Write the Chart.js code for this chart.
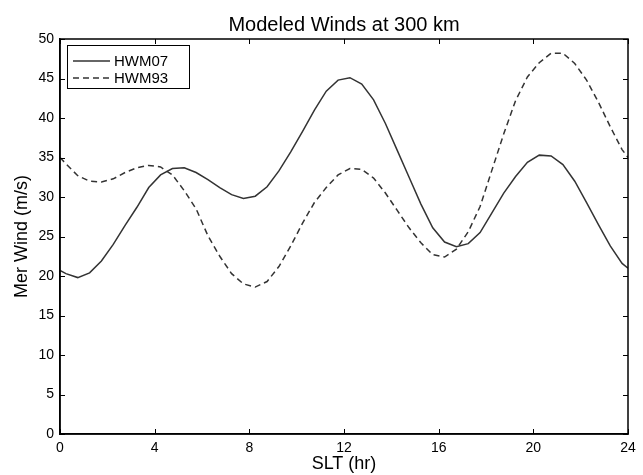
<!DOCTYPE html>
<html>
<head>
<meta charset="utf-8">
<title>Modeled Winds at 300 km</title>
<script src="https://cdn.jsdelivr.net/npm/chart.js@4"></script>
<style>
  html, body { margin: 0; padding: 0; background: #fff; }
  #wrap { width: 643px; height: 475px; }
</style>
</head>
<body>
<div id="wrap"><canvas id="grafica" width="643" height="475"></canvas></div>
<script>
// Hora solar local (hr)
const hours = [0, 0.25, 0.75, 1.25, 1.75, 2.25, 2.75, 3.25, 3.75, 4.25, 4.75, 5.25, 5.75,
  6.25, 6.75, 7.25, 7.75, 8.25, 8.75, 9.25, 9.75, 10.25, 10.75, 11.25, 11.75,
  12.25, 12.75, 13.25, 13.75, 14.25, 14.75, 15.25, 15.75, 16.25, 16.75, 17.25, 17.75,
  18.25, 18.75, 19.25, 19.75, 20.25, 20.75, 21.25, 21.75, 22.25, 22.75, 23.25, 23.75, 24];

// Viento meridional (m/s)
const hwm07 = [20.7, 20.3, 19.8, 20.4, 21.9, 24.0, 26.4, 28.7, 31.2, 32.8, 33.6, 33.7, 33.1,
  32.2, 31.2, 30.3, 29.8, 30.1, 31.3, 33.3, 35.7, 38.3, 41.0, 43.4, 44.8,
  45.1, 44.3, 42.3, 39.3, 35.9, 32.5, 29.1, 26.1, 24.3, 23.7, 24.1, 25.5,
  28.0, 30.5, 32.6, 34.4, 35.3, 35.2, 34.1, 32.0, 29.3, 26.5, 23.8, 21.6, 21.0];

const hwm93 = [35.0, 34.2, 32.7, 32.0, 31.9, 32.3, 33.1, 33.7, 34.0, 33.8, 32.8, 30.8, 28.5,
  25.1, 22.5, 20.3, 19.0, 18.6, 19.3, 21.2, 23.8, 26.7, 29.3, 31.2, 32.8,
  33.6, 33.5, 32.4, 30.5, 28.3, 26.1, 24.2, 22.7, 22.4, 23.4, 25.6, 28.8,
  33.4, 38.0, 42.2, 45.2, 47.0, 48.2, 48.2, 46.9, 44.8, 42.0, 38.9, 36.0, 35.0];

const xTicks = [0, 4, 8, 12, 16, 20, 24];
const yTicks = [0, 5, 10, 15, 20, 25, 30, 35, 40, 45, 50];

const fuente = "'Liberation Sans', Arial, Helvetica, sans-serif";

// Marco y marcas hacia dentro (estilo MATLAB)
const marco = {
  id: 'marco',
  afterDraw(chart) {
    const ctx = chart.ctx;
    const { left, right, top, bottom } = chart.chartArea;
    const xs = chart.scales.x, ys = chart.scales.y;
    ctx.save();
    ctx.strokeStyle = '#000';
    ctx.lineWidth = 1;
    xTicks.forEach(v => {
      const px = Math.round(xs.getPixelForValue(v)) + 0.5;
      ctx.beginPath();
      ctx.moveTo(px, bottom); ctx.lineTo(px, bottom - 5);
      ctx.moveTo(px, top); ctx.lineTo(px, top + 5);
      ctx.stroke();
    });
    yTicks.forEach(v => {
      const py = Math.round(ys.getPixelForValue(v)) + 0.5;
      ctx.beginPath();
      ctx.moveTo(left, py); ctx.lineTo(left + 5, py);
      ctx.moveTo(right, py); ctx.lineTo(right - 5, py);
      ctx.stroke();
    });
    ctx.lineWidth = 1.5;
    ctx.strokeRect(left, top, right - left, bottom - top);
    ctx.restore();
  }
};

// Leyenda dentro del area del grafico
const leyenda = {
  id: 'leyenda',
  afterDatasetsDraw(chart) {
    const ctx = chart.ctx;
    const x0 = 67, y0 = 45, w = 122, h = 43;
    ctx.save();
    ctx.fillStyle = '#fff';
    ctx.fillRect(x0, y0, w, h);
    ctx.strokeStyle = '#000';
    ctx.lineWidth = 1;
    ctx.strokeRect(x0 + 0.5, y0 + 0.5, w, h);
    chart.data.datasets.forEach((ds, i) => {
      const y = y0 + 16 + i * 17;
      ctx.strokeStyle = ds.borderColor;
      ctx.lineWidth = ds.borderWidth;
      ctx.setLineDash(ds.borderDash || []);
      ctx.beginPath();
      ctx.moveTo(x0 + 6, y); ctx.lineTo(x0 + 43, y);
      ctx.stroke();
      ctx.setLineDash([]);
      ctx.fillStyle = '#000';
      ctx.font = '15px ' + fuente;
      ctx.textBaseline = 'middle';
      ctx.fillText(ds.label, x0 + 47, y + 1);
    });
    ctx.restore();
  }
};

const ctx = document.getElementById('grafica');
new Chart(ctx, {
  type: 'line',
  data: {
    datasets: [{
      label: 'HWM07',
      data: hours.map((h, i) => ({ x: h, y: hwm07[i] })),
      borderColor: '#333',
      borderWidth: 1.5,
      pointRadius: 0,
      tension: 0
    }, {
      label: 'HWM93',
      data: hours.map((h, i) => ({ x: h, y: hwm93[i] })),
      borderColor: '#333',
      borderWidth: 1.5,
      borderDash: [6, 4],
      pointRadius: 0,
      tension: 0
    }]
  },
  options: {
    responsive: false,
    animation: false,
    layout: { padding: { left: 0, right: 15, top: 0, bottom: 0 } },
    plugins: {
      legend: { display: false },
      tooltip: { enabled: false },
      title: {
        display: true,
        fullSize: false,
        text: 'Modeled Winds at 300 km',
        color: '#000',
        font: { family: fuente, size: 20, weight: 'normal' },
        padding: { top: 13, bottom: 2 }
      }
    },
    scales: {
      x: {
        type: 'linear',
        min: 0, max: 24,
        afterBuildTicks: s => { s.ticks = xTicks.map(v => ({ value: v })); },
        afterFit: s => { s.height = 41; },
        grid: { display: false, drawTicks: false },
        border: { display: true, color: '#000', width: 1.5 },
        ticks: { color: '#000', padding: 6, maxRotation: 0, font: { family: fuente, size: 14 } },
        title: {
          display: true, text: 'SLT (hr)', color: '#000',
          font: { family: fuente, size: 18 }, padding: { top: 0, bottom: 0 }
        }
      },
      y: {
        min: 0, max: 50,
        afterBuildTicks: s => { s.ticks = yTicks.map(v => ({ value: v })); },
        afterFit: s => { s.width = 60; },
        grid: { display: false, drawTicks: false },
        border: { display: true, color: '#000', width: 1.5 },
        ticks: { color: '#000', padding: 6, font: { family: fuente, size: 14 } },
        title: {
          display: true, text: 'Mer Wind (m/s)', color: '#000',
          font: { family: fuente, size: 18 }, padding: { top: 11, bottom: 0 }
        }
      }
    }
  },
  plugins: [leyenda, marco]
});
</script>
</body>
</html>
